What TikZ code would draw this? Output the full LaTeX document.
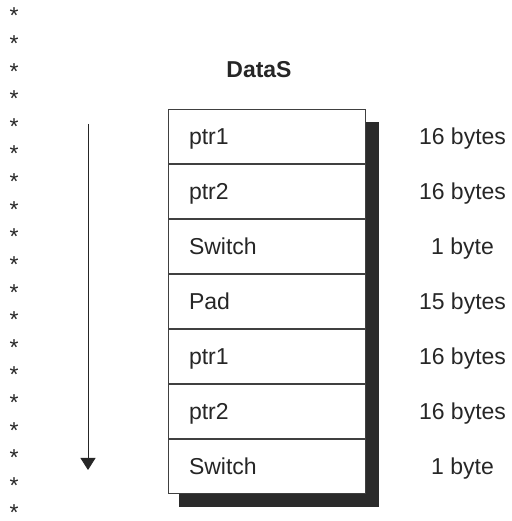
\documentclass[tikz,border=0pt]{standalone}
\usepackage{fontspec}
\setmainfont{Liberation Sans}
\usetikzlibrary{arrows.meta,positioning,backgrounds}

\begin{document}
\begin{tikzpicture}[x=1pt,y=1pt]
\tikzset{
  inktext/.style={text=black!85,font=\fontsize{23}{27}\selectfont},
  starmark/.style={inktext,anchor=base,inner sep=0pt},
  cell/.style={inktext,draw=black!75,fill=white,line width=0.8pt,text width=155pt,align=left,inner xsep=21pt,minimum height=54.3pt,inner ysep=0pt,text height=16pt,text depth=0pt},
  sizelabel/.style={inktext,inner sep=0pt,text height=16pt,text depth=0pt},
  heading/.style={inktext,font=\fontsize{23}{27}\selectfont\bfseries,inner sep=0pt},
  shadowbox/.style={fill=black!83,draw=none},
  flowarrow/.style={draw=black!85,line width=0.8pt,-{Triangle[length=12pt,width=15pt]}}
}
\useasboundingbox (0,0) rectangle (511,521);
\node[starmark] (st00) at (14,497.0) {*};
\node[starmark] (st01) at (14,469.4) {*};
\node[starmark] (st02) at (14,441.8) {*};
\node[starmark] (st03) at (14,414.2) {*};
\node[starmark] (st04) at (14,386.6) {*};
\node[starmark] (st05) at (14,359.0) {*};
\node[starmark] (st06) at (14,331.3) {*};
\node[starmark] (st07) at (14,303.7) {*};
\node[starmark] (st08) at (14,276.1) {*};
\node[starmark] (st09) at (14,248.5) {*};
\node[starmark] (st10) at (14,220.9) {*};
\node[starmark] (st11) at (14,193.3) {*};
\node[starmark] (st12) at (14,165.7) {*};
\node[starmark] (st13) at (14,138.1) {*};
\node[starmark] (st14) at (14,110.4) {*};
\node[starmark] (st15) at (14,82.8) {*};
\node[starmark] (st16) at (14,55.2) {*};
\node[starmark] (st17) at (14,27.6) {*};
\node[starmark] (st18) at (14,0.2) {*};
\node[heading] (title) at (259,451) {DataS};
\node[cell] (c1) at (266.5,384.9) {ptr1};
\node[cell,below=0pt of c1] (c2) {ptr2};
\node[cell,below=0pt of c2] (c3) {Switch};
\node[cell,below=0pt of c3] (c4) {Pad};
\node[cell,below=0pt of c4] (c5) {ptr1};
\node[cell,below=0pt of c5] (c6) {ptr2};
\node[cell,below=0pt of c6] (c7) {Switch};
\begin{scope}[on background layer]
\fill[shadowbox] ([xshift=11pt,yshift=-13pt]c1.north west) rectangle ([xshift=14pt,yshift=-13pt]c7.south east);
\end{scope}
\node[sizelabel] (s1) at ([xshift=196pt]c1.center) {16 bytes};
\node[sizelabel] (s2) at ([xshift=196pt]c2.center) {16 bytes};
\node[sizelabel] (s3) at ([xshift=196pt]c3.center) {1 byte};
\node[sizelabel] (s4) at ([xshift=196pt]c4.center) {15 bytes};
\node[sizelabel] (s5) at ([xshift=196pt]c5.center) {16 bytes};
\node[sizelabel] (s6) at ([xshift=196pt]c6.center) {16 bytes};
\node[sizelabel] (s7) at ([xshift=196pt]c7.center) {1 byte};
\coordinate (flowtop) at (88,397);
\coordinate (flowend) at (88,51);
\draw[flowarrow] (flowtop) -- (flowend);
\end{tikzpicture}
\end{document}
